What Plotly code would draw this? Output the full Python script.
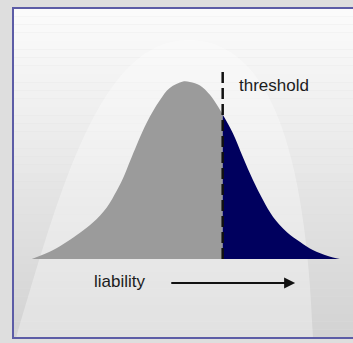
import plotly.graph_objects as go

# ---- data ----
liability = [-2.40, -2.06, -1.64, -1.43, -1.21, -1.05, -0.95, -0.84, -0.73, -0.57, -0.37,
             -0.21, 0.00, 0.11, 0.27, 0.43, 0.54, 0.63, 0.79, 0.95, 1.11, 1.27, 1.43,
             1.65, 1.86, 2.06, 2.30, 2.49]
density = [0.0, 0.05, 0.146, 0.205, 0.29, 0.385, 0.455, 0.55, 0.645, 0.77, 0.89,
           0.96, 0.997, 0.994, 0.975, 0.921, 0.865, 0.812, 0.708, 0.573, 0.444, 0.331, 0.236,
           0.15, 0.095, 0.05, 0.017, 0.0]
threshold = 0.63
threshold_label = "threshold"
axis_label = "liability"

W, H = 353, 343

# ---- helpers for decorative (paper) coordinates ----
def px(x):
    return x / W

def py(y):
    return 1 - y / H

below_x = [x for x in liability if x <= threshold]
below_y = [d for x, d in zip(liability, density) if x <= threshold]
above_x = [x for x in liability if x >= threshold]
above_y = [d for x, d in zip(liability, density) if x >= threshold]

fig = go.Figure()
fig.add_trace(go.Scatter(x=below_x, y=below_y, mode="lines", fill="tozeroy",
                         line=dict(width=0, shape="spline", smoothing=1.0),
                         fillcolor="#9b9b9b", hoverinfo="skip", showlegend=False))
fig.add_trace(go.Scatter(x=above_x, y=above_y, mode="lines", fill="tozeroy",
                         line=dict(width=0, shape="spline", smoothing=1.0),
                         fillcolor="#00005e", hoverinfo="skip", showlegend=False))
fig.add_trace(go.Scatter(x=[threshold, threshold], y=[0, 1.062], mode="lines",
                         line=dict(color="#111111", width=2.5, dash="11px,5px"),
                         hoverinfo="skip", showlegend=False))

shapes = []
# gradient background inside the frame
top, bot, left, right = 8, 338, 13, 356
n = 40
c0, c1 = 252, 210
for i in range(n):
    y0 = top + (bot - top) * i / n
    y1 = top + (bot - top) * (i + 1) / n
    c = round(c0 + (c1 - c0) * (i + 0.5) / n)
    shapes.append(dict(type="rect", xref="paper", yref="paper", layer="below",
                       x0=px(left), x1=px(right), y0=py(y1), y1=py(y0),
                       fillcolor=f"rgb({c},{c},{c})", line=dict(width=0)))
# soft glow bell behind the curve
path = (f"M {px(16)},{py(338)} C {px(60)},{py(190)} {px(100)},{py(40)} {px(188)},{py(40)} "
        f"C {px(270)},{py(40)} {px(306)},{py(150)} {px(313)},{py(338)} Z")
shapes.append(dict(type="path", path=path, xref="paper", yref="paper", layer="below",
                   fillcolor="rgba(255,255,255,0.33)", line=dict(width=0)))
# frame border
shapes.append(dict(type="rect", xref="paper", yref="paper", layer="above",
                   x0=px(13), x1=px(356), y0=py(338), y1=py(8),
                   line=dict(color="#5c5ca6", width=2), fillcolor="rgba(0,0,0,0)"))

annotations = [
    dict(x=0.857, y=0.975, xref="x", yref="y", text=threshold_label, showarrow=False,
         xanchor="left", yanchor="middle",
         font=dict(family="Liberation Sans, Arial", size=17, color="#1c1c1c")),
    dict(x=-1.0, y=-0.125, xref="x", yref="y", text=axis_label, showarrow=False,
         xanchor="center", yanchor="middle",
         font=dict(family="Liberation Sans, Arial", size=17, color="#1c1c1c")),
    dict(x=1.78, y=-0.135, ax=-0.21, ay=-0.135, xref="x", yref="y", axref="x", ayref="y",
         text="", showarrow=True, arrowhead=2, arrowsize=1.1, arrowwidth=2,
         arrowcolor="#111111"),
]

fig.update_layout(
    width=W, height=H, margin=dict(l=0, r=0, t=0, b=0),
    paper_bgcolor="#dedede", plot_bgcolor="rgba(0,0,0,0)",
    xaxis=dict(range=[-183 / 63, (W - 183) / 63], visible=False, fixedrange=True),
    yaxis=dict(range=[(259 - H) / 178, 259 / 178], visible=False, fixedrange=True),
    shapes=shapes, annotations=annotations, showlegend=False,
)

fig.write_html("out.html", config={"displayModeBar": False},
               post_script="document.body.style.margin='0';document.body.style.overflow='hidden';")
